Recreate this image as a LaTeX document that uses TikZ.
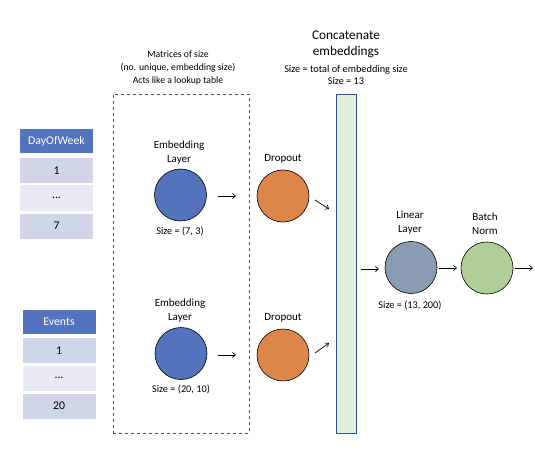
\documentclass[tikz,border=0pt]{standalone}
\usepackage{fontspec}
\setmainfont{Carlito}
\usetikzlibrary{arrows.meta}
\definecolor{embblue}{HTML}{5373BD}
\definecolor{dropor}{HTML}{DD8649}
\definecolor{lingray}{HTML}{8A9BB2}
\definecolor{bngreen}{HTML}{B1CE99}
\definecolor{hdrblue}{HTML}{5473BF}
\definecolor{rowdark}{HTML}{D0D5E8}
\definecolor{rowlight}{HTML}{E9EAF4}
\definecolor{barfill}{HTML}{E2EFDA}
\definecolor{barline}{HTML}{2F4F99}
\definecolor{dashblue}{HTML}{2F4F8F}
\tikzset{
  layer/.style={circle,draw=black,line width=0.6pt,minimum size=52pt,inner sep=0pt},
  lbl/.style={font=\fontsize{11}{14}\selectfont,align=center,inner sep=0pt},
  small/.style={font=\fontsize{10.3}{12}\selectfont,align=center,inner sep=0pt},
  cell/.style={minimum width=73pt,inner sep=0pt,font=\fontsize{11.8}{12}\selectfont},
  hdr/.style={cell,fill=hdrblue,text=white,minimum height=24pt},
  rowd/.style={cell,fill=rowdark,minimum height=25pt},
  rowl/.style={cell,fill=rowlight,minimum height=25pt},
  arr/.style={-{Straight Barb[length=3pt,width=5pt]},line width=0.7pt},
}
\begin{document}
\begin{tikzpicture}[x=1pt,y=-1pt]
\useasboundingbox (0,0) rectangle (535,449);
% tables
\node[hdr] (dh) at (56.5,141) {DayOfWeek};
\node[rowd] (d1) at (56.5,170.5) {1};
\node[rowl] (d2) at (56.5,198) {...};
\node[rowd] (d3) at (56.5,226) {7};
\node[hdr] (eh) at (59,321.5) {Events};
\node[rowd] (e1) at (59,350.5) {1};
\node[rowl] (e2) at (59,378) {...};
\node[rowd] (e3) at (59,406) {20};
% dashed box
\node[draw=dashblue,dashed,line width=0.7pt,minimum width=136pt,minimum height=339pt,inner sep=0pt] (box) at (181,263.5) {};
\node[small,font=\fontsize{9.7}{13}\selectfont] (boxt) at (178,68) {Matrices of size\\(no. unique, embedding size)\\Acts like a lookup table};
% embedding layers
\node[layer,fill=embblue] (emb1) at (180.5,195) {};
\node[lbl] (emb1l) at (179,152.5) {Embedding\\Layer};
\node[small] (emb1s) at (180,231) {Size = (7, 3)};
\node[layer,fill=embblue] (emb2) at (181,353.5) {};
\node[lbl] (emb2l) at (180,311) {Embedding\\Layer};
\node[small] (emb2s) at (181,389) {Size = (20, 10)};
% dropouts
\node[layer,fill=dropor] (dr1) at (283,196) {};
\node[lbl] (dr1l) at (283,159) {Dropout};
\node[layer,fill=dropor] (dr2) at (283,355) {};
\node[lbl] (dr2l) at (283,318) {Dropout};
% bar
\node[draw=barline,fill=barfill,line width=0.7pt,minimum width=20pt,minimum height=339pt,inner sep=0pt] (bar) at (346,263.5) {};
\node[font=\fontsize{13.3}{16}\selectfont,align=center,inner sep=0pt] (bart) at (346,44) {Concatenate\\embeddings};
\node[small] (bars) at (346,75) {Size = total of embedding size\\Size = 13};
% linear and batch norm
\node[layer,fill=lingray] (lin) at (411,267.5) {};
\node[lbl] (linl) at (410,223) {Linear\\Layer};
\node[small] (lins) at (410,305) {Size = (13, 200)};
\node[layer,fill=bngreen] (bn) at (487,268) {};
\node[lbl] (bnl) at (485,223.5) {Batch\\Norm};
% arrow ends
\coordinate (a1s) at (218,196);   \coordinate (a1e) at (236,196);
\coordinate (a2s) at (218,355);   \coordinate (a2e) at (236,355);
\coordinate (a3s) at (315,200);   \coordinate (a3e) at (329,209);
\coordinate (a4s) at (315,353);   \coordinate (a4e) at (329,343);
\coordinate (a5s) at (361,269);   \coordinate (a5e) at (379,269);
\coordinate (a6s) at (439,268);   \coordinate (a6e) at (457,268);
\coordinate (a7s) at (515,268);   \coordinate (a7e) at (533,268);
\draw[arr] (a1s) -- (a1e);
\draw[arr] (a2s) -- (a2e);
\draw[arr] (a3s) -- (a3e);
\draw[arr] (a4s) -- (a4e);
\draw[arr] (a5s) -- (a5e);
\draw[arr] (a6s) -- (a6e);
\draw[arr] (a7s) -- (a7e);
\end{tikzpicture}
\end{document}
